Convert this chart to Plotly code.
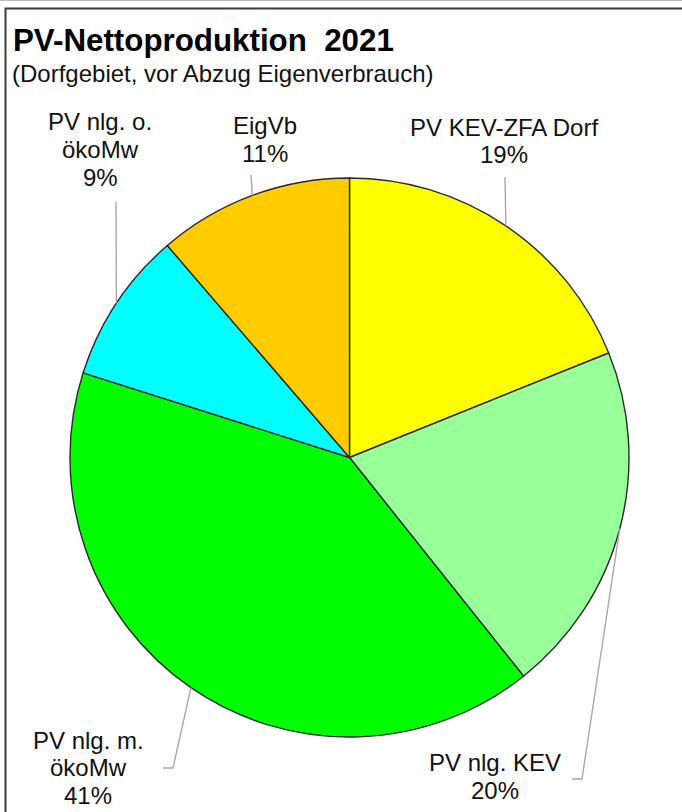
import math
import plotly.graph_objects as go

W, H = 682, 812

categories = ["PV KEV-ZFA Dorf", "PV nlg. KEV", "PV nlg. m. ökoMw", "PV nlg. o. ökoMw", "EigVb"]
values = [18.9, 20.4, 40.6, 8.8, 11.3]
colors = ["#FFFF00", "#99FF99", "#00FF00", "#00FFFF", "#FFCC00"]
label_lines = [["PV KEV-ZFA Dorf"], ["PV nlg. KEV"], ["PV nlg. m.", "ökoMw"], ["PV nlg. o.", "ökoMw"], ["EigVb"]]

title = "PV-Nettoproduktion  2021"
subtitle = "(Dorfgebiet, vor Abzug Eigenverbrauch)"

# layout (pixel geometry)
CX, CY, R = 349.5, 457.5, 279.5
label_pos = [(503.5, 127), (495, 762.5), (88, 740), (100, 122), (265, 126)]
leader_end = [[(505, 177)], [(582, 779), (572, 779)], [(173, 768), (163, 768)], [(116, 202)], [(251, 175)]]
LINE_H = 27.8
FONT = "Liberation Sans, Arial, sans-serif"


def px(x):
    return x / W


def py(y):
    return 1 - y / H


fig = go.Figure(go.Pie(
    labels=categories, values=values, sort=False, direction="clockwise", rotation=0,
    marker=dict(colors=colors, line=dict(color="#2a2a2a", width=1.4)),
    textinfo="none", hoverinfo="label+percent", showlegend=False,
    domain=dict(x=[px(CX - R), px(CX + R)], y=[py(CY + R), py(CY - R)]),
))

total = sum(values)
shapes = []
annotations = []
cum = 0.0
for i, v in enumerate(values):
    mid = (cum + v / 2) / total * 2 * math.pi
    cum += v
    ex, ey = CX + R * math.sin(mid), CY - R * math.cos(mid)
    pts = [(ex, ey)] + leader_end[i]
    path = "M " + " L ".join(f"{px(a):.5f},{py(b):.5f}" for a, b in pts)
    shapes.append(dict(type="path", xref="paper", yref="paper", path=path,
                       line=dict(color="#a8a8a8", width=1.4)))
    lines = label_lines[i] + [f"{round(v / total * 100)}%"]
    lx, ly = label_pos[i]
    for j, t in enumerate(lines):
        annotations.append(dict(text=t, x=px(lx), y=py(ly + j * LINE_H), xref="paper", yref="paper",
                                xanchor="center", yanchor="middle", showarrow=False,
                                font=dict(family=FONT, size=24, color="#111111")))

annotations.append(dict(text=f"<b>{title}</b>", x=px(11), y=py(40), xref="paper", yref="paper",
                        xanchor="left", yanchor="middle", showarrow=False,
                        font=dict(family=FONT, size=31.3, color="#000000")))
annotations.append(dict(text=subtitle, x=px(10), y=py(73), xref="paper", yref="paper",
                        xanchor="left", yanchor="middle", showarrow=False,
                        font=dict(family=FONT, size=24, color="#111111")))

# frame
shapes.append(dict(type="line", xref="paper", yref="paper", x0=0, x1=1, y0=py(0.5), y1=py(0.5),
                   line=dict(color="#bbbbbb", width=1)))
shapes.append(dict(type="rect", xref="paper", yref="paper", x0=px(5.5), x1=px(W + 10), y0=py(H + 10), y1=py(8.5),
                   line=dict(color="#3a3a3a", width=2)))

fig.update_layout(width=W, height=H, margin=dict(l=0, r=0, t=0, b=0),
                  paper_bgcolor="white", plot_bgcolor="white",
                  shapes=shapes, annotations=annotations)
fig.write_html("out.html", config={"displayModeBar": False},
               post_script="document.body.style.margin='0';document.body.style.overflow='hidden';")
